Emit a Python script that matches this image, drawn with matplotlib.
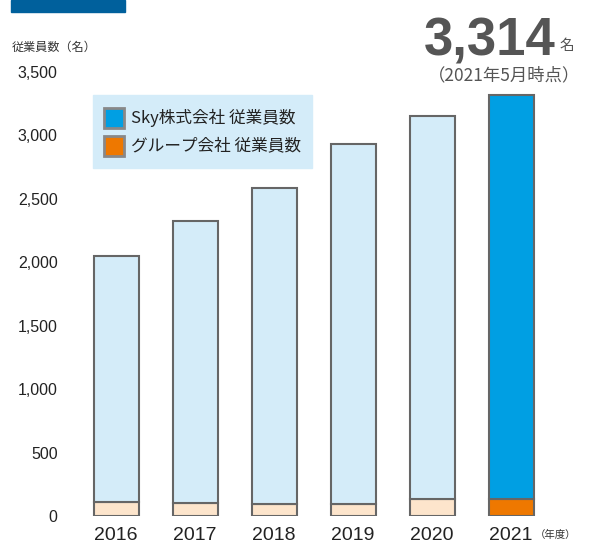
import matplotlib.pyplot as plt
from matplotlib.patches import Rectangle

plt.rcParams['font.family'] = ['Liberation Sans', 'Noto Sans CJK JP', 'DejaVu Sans']

years = ['2016', '2017', '2018', '2019', '2020', '2021']
total = [2047, 2323, 2583, 2929, 3150, 3314]
group = [110, 102, 95, 95, 134, 134]
yticks = [0, 500, 1000, 1500, 2000, 2500, 3000, 3500]

light_blue = '#d4ecf9'
light_orange = '#fde5cc'
blue = '#009fe3'
orange = '#ee7800'
edge = '#666666'

fig = plt.figure(figsize=(5.89, 5.43), dpi=100)
ax = fig.add_axes([0.1165, 0.0497, 0.8316, 0.818])

x = list(range(len(years)))
sky = [t - g for t, g in zip(total, group)]
top_colors = [light_blue] * 5 + [blue]
bot_colors = [light_orange] * 5 + [orange]

ax.bar(x, group, width=0.57, color=bot_colors, edgecolor=edge, linewidth=1.5)
ax.bar(x, sky, bottom=group, width=0.57, color=top_colors, edgecolor=edge, linewidth=1.5)

ax.set_xlim(-0.6, 5.6)
ax.set_ylim(0, 3500)
ax.set_yticks(yticks)
ax.set_yticklabels([f'{v:,}' for v in yticks], fontsize=11.5, color='#222222')
ax.set_xticks(x)
ax.set_xticklabels(years, fontsize=14, color='#222222')
ax.tick_params(length=0)
ax.tick_params(axis='x', pad=8)
ax.tick_params(axis='y', pad=8)
for s in ax.spines.values():
    s.set_visible(False)

# header bar and labels
fig.patches.append(Rectangle((11 / 589, 1 - 12 / 543), 114 / 589, 12 / 543,
                             transform=fig.transFigure, color='#00609c'))
fig.text(12 / 589, 1 - 47 / 543, '従業員数（名）', fontsize=8.7, color='#333333', va='center',
         family=['Noto Sans CJK JP'])
fig.text(556 / 589, 1 - 55 / 543, '3,314', fontsize=38, fontweight='bold', color='#555555',
         ha='right', va='baseline')
fig.text(559 / 589, 1 - 46 / 543, '名', fontsize=10.5, color='#555555', va='center',
         family=['Noto Sans CJK JP'])
fig.text(504 / 589, 1 - 75 / 543, '（2021年5月時点）', fontsize=12.5, color='#555555',
         ha='center', va='center', family=['Noto Sans CJK JP'])
fig.text(535 / 589, 1 - 535 / 543, '（年度）', fontsize=7.5, color='#333333',
         va='center', family=['Noto Sans CJK JP'])

# legend box
fig.patches.append(Rectangle((93 / 589, 1 - 168 / 543), 219 / 589, 73 / 543,
                             transform=fig.transFigure, color=light_blue, zorder=3))
for i, (c, lbl) in enumerate([(blue, 'Sky株式会社 従業員数'), (orange, 'グループ会社 従業員数')]):
    yc = 118 + i * 28
    fig.patches.append(Rectangle((104 / 589, 1 - (yc + 10) / 543), 20 / 589, 20 / 543,
                                 transform=fig.transFigure, facecolor=c, edgecolor='#888888',
                                 linewidth=2, zorder=4))
    fig.text(131 / 589, 1 - yc / 543, lbl, fontsize=12, color='#222222', va='center',
             zorder=5, family=['Noto Sans CJK JP'])

fig.savefig('out.png', dpi=100)
